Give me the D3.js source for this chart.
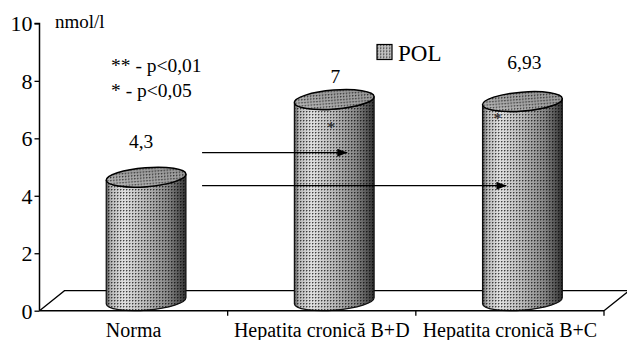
<!DOCTYPE html>
<html>
<head>
<meta charset="utf-8">
<script src="https://cdn.jsdelivr.net/npm/d3@7"></script>
<style>
  body { margin: 0; }
  text { font-family: 'Liberation Serif', 'Tinos', 'Times New Roman', serif !important; }
</style>
</head>
<body>
<svg id="chart" width="627" height="340"></svg>
<script>
// POL concentration, nmol/l
const categories = ["Norma", "Hepatita cronică B+D", "Hepatita cronică B+C"];
const values = [4.3, 7, 6.93];
const valueLabels = ["4,3", "7", "6,93"];
const yTicks = [0, 2, 4, 6, 8, 10];
const seriesName = "POL";
const unitLabel = "nmol/l";
const significance = ["** - p<0,01", "* - p<0,05"];
const markers = ["", "*", "*"];

const svg = d3.select("#chart");
const W = 627, H = 340;
const margin = { left: 39.5, right: 23, top: 23.4, bottom: 29.3 };
const depth = { dx: 25, dy: -20 };

const x = d3.scaleBand().domain(categories).range([margin.left, W - margin.right]).padding(0);
const y = d3.scaleLinear().domain([0, 10]).range([H - margin.bottom, margin.top]);

const defs = svg.append("defs");

// stipple texture
const pat = defs.append("pattern")
  .attr("id", "dots").attr("patternUnits", "userSpaceOnUse")
  .attr("width", 3).attr("height", 3);
pat.append("rect").attr("x", 0).attr("y", 0).attr("width", 1).attr("height", 1).attr("fill", "#000").attr("opacity", 0.7);
pat.append("rect").attr("x", 1).attr("y", 0).attr("width", 1).attr("height", 1).attr("fill", "#000").attr("opacity", 0.3);
pat.append("rect").attr("x", 0).attr("y", 1).attr("width", 1).attr("height", 1).attr("fill", "#000").attr("opacity", 0.3);

const sideGrad = defs.append("linearGradient").attr("id", "side")
  .attr("x1", 0).attr("x2", 1).attr("y1", 0).attr("y2", 0);
[[0, "#555"], [0.06, "#b8b8b8"], [0.22, "#e0e0e0"], [0.5, "#b8b8b8"], [0.78, "#858585"], [0.93, "#505050"], [1, "#303030"]]
  .forEach(([o, c]) => sideGrad.append("stop").attr("offset", o).attr("stop-color", c));

const capGrad = defs.append("linearGradient").attr("id", "topg")
  .attr("x1", 0).attr("x2", 1).attr("y1", 1).attr("y2", 0);
[[0, "#c0c0c0"], [0.5, "#a2a2a2"], [1, "#959595"]]
  .forEach(([o, c]) => capGrad.append("stop").attr("offset", o).attr("stop-color", c));

// floor
const y0 = y(0);
svg.append("path")
  .attr("d", `M${x.range()[0]},${y0} L${x.range()[0] + depth.dx},${y0 + depth.dy} L${x.range()[1] + depth.dx},${y0 + depth.dy} L${x.range()[1]},${y0}`)
  .attr("fill", "none").attr("stroke", "#000").attr("stroke-width", 1.3);

// cylinders
const rx = x.bandwidth() * 0.2125, ry = 9.5, tilt = -4.5;
const th = tilt * Math.PI / 180;
const ex = rx * Math.cos(th), ey = rx * Math.sin(th);

const cyl = svg.append("g").selectAll("g").data(categories).join("g");
cyl.each(function (c, i) {
  const g = d3.select(this);
  const cx = x(c) + x.bandwidth() / 2 + depth.dx / 2;
  const ct = y(values[i]) + depth.dy / 2;
  const cb = y(0) + depth.dy / 2;
  const body = `M${cx - ex},${ct - ey} L${cx - ex},${cb - ey} A${rx},${ry} ${tilt} 0 0 ${cx + ex},${cb + ey} L${cx + ex},${ct + ey} A${rx},${ry} ${tilt} 0 1 ${cx - ex},${ct - ey} Z`;
  g.append("path").attr("d", body).attr("fill", "url(#side)");
  g.append("path").attr("d", body).attr("fill", "url(#dots)")
    .attr("stroke", "#111").attr("stroke-width", 1.2);
  const cap = g.append("g").attr("transform", `translate(${cx},${ct}) rotate(${tilt})`);
  cap.append("ellipse").attr("rx", rx).attr("ry", ry).attr("fill", "url(#topg)");
  cap.append("ellipse").attr("rx", rx).attr("ry", ry).attr("fill", "url(#dots)")
    .attr("stroke", "#000").attr("stroke-width", 1.5);
});

// value labels above cylinders
const labelLift = [39.5, 27, 42.3];
const labelShift = [-5, 1, 2];
svg.append("g").selectAll("text").data(categories).join("text")
  .attr("x", (c, i) => x(c) + x.bandwidth() / 2 + depth.dx / 2 + labelShift[i])
  .attr("y", (c, i) => y(values[i]) - labelLift[i])
  .attr("text-anchor", "middle").attr("font-size", 19.5)
  .text((c, i) => valueLabels[i]);

// significance markers
const markerPos = [null, { dx: -3, v: 6.2 }, { dx: -25, v: 6.5 }];
svg.append("g").selectAll("text").data(categories).join("text")
  .attr("x", (c, i) => markerPos[i] ? x(c) + x.bandwidth() / 2 + depth.dx / 2 + markerPos[i].dx : 0)
  .attr("y", (c, i) => markerPos[i] ? y(markerPos[i].v) : 0)
  .attr("text-anchor", "middle").attr("font-size", 17).attr("fill", "#222")
  .text((c, i) => markers[i]);

// comparison arrows from Norma
defs.append("marker").attr("id", "head")
  .attr("viewBox", "0 0 10 8").attr("refX", 10).attr("refY", 4)
  .attr("markerWidth", 10).attr("markerHeight", 8).attr("markerUnits", "userSpaceOnUse")
  .attr("orient", "auto")
  .append("path").attr("d", "M0,0 L10,4 L0,8 Z").attr("fill", "#000");
const arrows = [
  { to: categories[1], v: 5.5, end: 13 },
  { to: categories[2], v: 4.35, end: -16 }
];
const startX = x(categories[0]) + x.bandwidth() / 2 + depth.dx / 2 + 56;
svg.append("g").selectAll("line").data(arrows).join("line")
  .attr("x1", startX)
  .attr("x2", d => x(d.to) + x.bandwidth() / 2 + depth.dx / 2 + d.end)
  .attr("y1", d => y(d.v)).attr("y2", d => y(d.v))
  .attr("stroke", "#000").attr("stroke-width", 1.3)
  .attr("marker-end", "url(#head)");

// axes
const yAxis = svg.append("g").attr("transform", `translate(${margin.left},0)`)
  .call(d3.axisLeft(y).tickValues(yTicks).tickSize(5).tickPadding(2).tickFormat(d3.format("d")));
yAxis.attr("font-family", null).attr("font-size", null);
yAxis.select(".domain").attr("stroke-width", 1.5).attr("d", `M-5,${y(10)}H0V${y(0)}`);
yAxis.selectAll(".tick line").attr("stroke-width", 1.3);
yAxis.selectAll(".tick text").attr("font-size", 22).attr("fill", "#000").attr("dy", "0.34em");

const xAxis = svg.append("g").attr("transform", `translate(0,${y0})`);
xAxis.append("line").attr("x1", x.range()[0]).attr("x2", x.range()[1])
  .attr("stroke", "#000").attr("stroke-width", 1.5);
xAxis.selectAll(".tk").data([...categories.slice(1).map(c => x(c)), x.range()[1]]).join("line")
  .attr("class", "tk").attr("x1", d => d).attr("x2", d => d).attr("y1", 0).attr("y2", 5)
  .attr("stroke", "#000").attr("stroke-width", 1.3);
xAxis.selectAll("text").data(categories).join("text")
  .attr("x", c => x(c) + x.bandwidth() / 2)
  .attr("y", 26.5)
  .attr("text-anchor", "middle").attr("font-size", 20)
  .text(c => c);

// unit and significance notes
svg.append("text").attr("x", 55).attr("y", 28).attr("font-size", 19).text(unitLabel);
svg.append("g").selectAll("text").data(significance).join("text")
  .attr("x", 111).attr("y", (d, i) => 72 + i * 24.5).attr("font-size", 19.5).text(d => d);

// legend
const lg = svg.append("g").attr("transform", "translate(377,44.5)");
lg.append("rect").attr("width", 15).attr("height", 15).attr("fill", "#c0c0c0");
lg.append("rect").attr("width", 15).attr("height", 15).attr("fill", "url(#dots)")
  .attr("stroke", "#000").attr("stroke-width", 1.2);
lg.append("text").attr("x", 21).attr("y", 16.5).attr("font-size", 23).text(seriesName);
</script>
</body>
</html>
